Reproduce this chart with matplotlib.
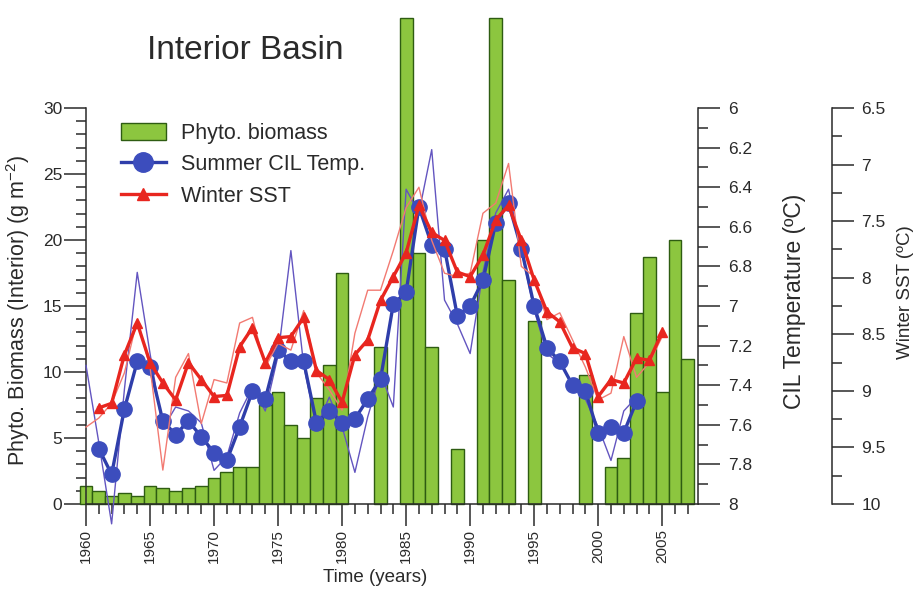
import numpy as np
import matplotlib
matplotlib.use('Agg')
import matplotlib.pyplot as plt
from matplotlib.patches import Patch
from matplotlib.lines import Line2D
from matplotlib.ticker import MultipleLocator, FormatStrFormatter

plt.rcParams['font.family'] = ['Liberation Sans', 'DejaVu Sans']
plt.rcParams['mathtext.fontset'] = 'custom'
plt.rcParams['mathtext.rm'] = 'Liberation Sans'
plt.rcParams['mathtext.default'] = 'rm'

# phytoplankton biomass, one bar per year (nan = no data)
bar_years = list(range(1960, 2008))
biomass = [1.4, 1.0, 0.6, 0.8, 0.6, 1.4, 1.2, 1.0, 1.2, 1.4,
           2.0, 2.4, 2.8, 2.8, 7.5, 8.5, 6.0, 5.0, 8.0, 10.5,
           17.5, np.nan, np.nan, 11.9, np.nan, 36.8, 19.0, 11.9, np.nan, 4.2,
           np.nan, 20.0, 36.8, 17.0, np.nan, 13.9, np.nan, np.nan, np.nan, 9.8,
           np.nan, 2.8, 3.5, 14.5, 18.7, 8.5, 20.0, 11.0]

# summer CIL temperature: annual values and running mean
cil_raw_years = list(range(1960, 2004))
cil_raw = [7.30, 7.69, 8.10, 7.42, 6.83, 7.24, 7.62, 7.51, 7.53, 7.59,
           7.83, 7.76, 7.54, 7.41, 7.53, 7.25, 6.72, 7.30, 7.61, 7.46,
           7.61, 7.84, 7.56, 7.34, 7.51, 6.41, 6.53, 6.21, 6.97, 7.09,
           7.24, 6.83, 6.53, 6.41, 6.72, 7.02, 7.24, 7.29, 7.39, 7.47,
           7.61, 7.78, 7.53, 7.46]
cil_years = list(range(1961, 2004))
cil_smooth = [7.72, 7.85, 7.52, 7.28, 7.31, 7.58, 7.65, 7.58, 7.66, 7.74,
              7.78, 7.61, 7.43, 7.47, 7.22, 7.28, 7.28, 7.59, 7.53, 7.59,
              7.57, 7.47, 7.37, 6.99, 6.93, 6.50, 6.69, 6.71, 7.05, 7.00,
              6.87, 6.58, 6.48, 6.71, 7.00, 7.21, 7.28, 7.40, 7.43, 7.64,
              7.61, 7.64, 7.48]

# winter SST: annual values and running mean
sst_raw_years = list(range(1960, 2006))
sst_raw = [9.32, 9.24, 9.11, 8.84, 8.37, 8.79, 9.70, 8.88, 8.67, 9.29,
           8.90, 8.93, 8.40, 8.35, 8.79, 8.58, 8.64, 8.29, 8.84, 8.99,
           9.17, 8.49, 8.11, 8.11, 7.76, 7.38, 7.20, 7.67, 7.96, 7.99,
           7.96, 7.43, 7.34, 6.99, 7.90, 7.99, 8.37, 8.31, 8.55, 8.79,
           9.08, 9.02, 8.52, 8.88, 8.75, 8.52]
sst_years = list(range(1961, 2006))
sst_smooth = [9.15, 9.11, 8.68, 8.40, 8.75, 8.93, 9.08, 8.75, 8.90, 9.05,
              9.04, 8.61, 8.44, 8.75, 8.53, 8.52, 8.35, 8.82, 8.90, 9.10,
              8.68, 8.55, 8.20, 7.99, 7.78, 7.36, 7.60, 7.67, 7.95, 7.99,
              7.80, 7.49, 7.36, 7.67, 8.02, 8.30, 8.39, 8.62, 8.67, 9.05,
              8.90, 8.93, 8.71, 8.73, 8.48]

green = '#8cc63f'
green_edge = '#2e5c12'
blue = '#2f3eaa'
blue_fill = '#3c4dbd'
blue_thin = '#6355c0'
red = '#e8261f'
red_thin = '#f27a72'
ink = '#2a2a2a'

fig = plt.figure(figsize=(9.18, 5.92), dpi=100)
ax = fig.add_axes([0.0937, 0.1486, 0.6667, 0.6689])

ax.bar(bar_years, biomass, width=1.0, color=green, edgecolor=green_edge,
       linewidth=1.0, clip_on=False, zorder=2)
ax.set_xlim(1960, 2007.8)
ax.set_ylim(0, 30)

ax_cil = ax.twinx()
ax_cil.set_ylim(8, 6)
ax_sst = ax.twinx()
ax_sst.set_ylim(10, 6.5)
ax_sst.spines['right'].set_position(('axes', 1.219))

for s in ['top', 'right']:
    ax.spines[s].set_visible(False)
for a in [ax_cil, ax_sst]:
    for s in ['top', 'left', 'bottom']:
        a.spines[s].set_visible(False)
for a in [ax, ax_cil, ax_sst]:
    for s in a.spines.values():
        s.set_color(ink)
        s.set_linewidth(1.1)

ax_cil.plot(cil_raw_years, cil_raw, color=blue_thin, lw=1.0, clip_on=False, zorder=3)
ax_cil.plot(cil_years, cil_smooth, color=blue, lw=2.4, marker='o', ms=11,
            mfc=blue_fill, mec=blue_fill, zorder=4)
ax_sst.plot(sst_raw_years, sst_raw, color=red_thin, lw=1.0, clip_on=False, zorder=3)
ax_sst.plot(sst_years, sst_smooth, color=red, lw=2.4, marker='^', ms=7,
            mfc=red, mec=red, zorder=4)

# ticks
ax.xaxis.set_major_locator(MultipleLocator(5))
ax.xaxis.set_minor_locator(MultipleLocator(1))
ax.yaxis.set_major_locator(MultipleLocator(5))
ax.yaxis.set_minor_locator(MultipleLocator(1))
ax_cil.yaxis.set_major_locator(MultipleLocator(0.2))
ax_cil.yaxis.set_minor_locator(MultipleLocator(0.1))
ax_cil.yaxis.set_major_formatter(FormatStrFormatter('%g'))
ax_sst.yaxis.set_major_locator(MultipleLocator(0.5))
ax_sst.yaxis.set_minor_locator(MultipleLocator(0.25))
ax_sst.yaxis.set_major_formatter(FormatStrFormatter('%g'))

for a in [ax, ax_cil, ax_sst]:
    a.tick_params(which='major', direction='out', length=16, width=1.1,
                  color=ink, labelcolor=ink, labelsize=12.5)
    a.tick_params(which='minor', direction='out', length=7, width=1.1, color=ink)
ax.tick_params(axis='x', which='major', labelrotation=90, labelsize=11, pad=2)
ax.tick_params(axis='y', which='major', pad=1)
ax_cil.tick_params(axis='y', which='major', pad=6)
ax_sst.tick_params(axis='y', which='major', pad=5)

# labels and title
fig.text(0.267, 0.9155, 'Interior Basin', fontsize=24, color=ink, ha='center', va='center')
fig.text(18 / 918, 1 - 310 / 592, 'Phyto. Biomass (Interior) (g m$^{-2}$)', rotation=90,
         fontsize=15.5, color=ink, ha='center', va='center')
fig.text(375 / 918, 1 - 578 / 592, 'Time (years)', fontsize=13.5, color=ink,
         ha='center', va='center')
fig.text(795 / 918, 1 - 301 / 592, 'CIL Temperature (ºC)', rotation=90, fontsize=16.5,
         color=ink, ha='center', va='center')
fig.text(905 / 918, 1 - 292 / 592, 'Winter SST (ºC)', rotation=90, fontsize=13.5,
         color=ink, ha='center', va='center')

handles = [Patch(facecolor=green, edgecolor=green_edge, linewidth=1.0),
           Line2D([], [], color=blue, lw=2.4, marker='o', ms=14, mfc=blue_fill, mec=blue_fill),
           Line2D([], [], color=red, lw=2.4, marker='^', ms=9, mfc=red, mec=red)]
labels = ['Phyto. biomass', 'Summer CIL Temp.', 'Winter SST']
fig.legend(handles, labels, loc='upper left', bbox_to_anchor=(0.122, 0.807),
           frameon=False, fontsize=15.5, handlelength=2.1, handleheight=0.85,
           handletextpad=0.7, labelspacing=0.48, borderaxespad=0, borderpad=0.4,
           labelcolor=ink)

plt.savefig('out.png', dpi=100)
